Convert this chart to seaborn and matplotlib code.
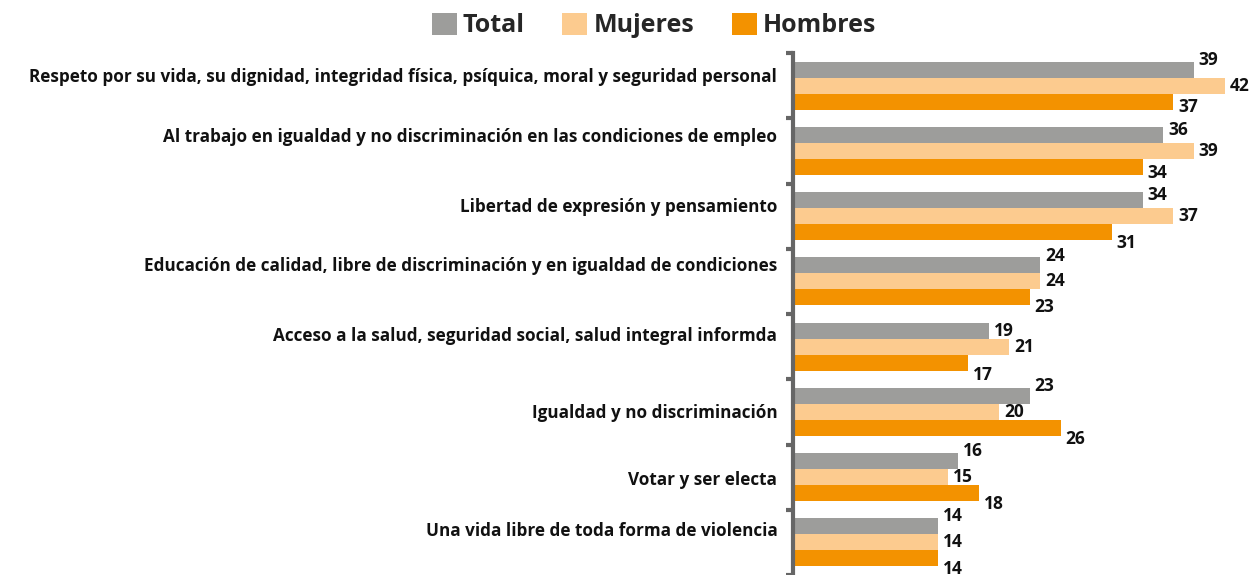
import matplotlib
matplotlib.use("Agg")
import matplotlib.pyplot as plt
import seaborn as sns
import pandas as pd
import numpy as np

categorias = [
    "Respeto por su vida, su dignidad, integridad física, psíquica, moral y seguridad personal",
    "Al trabajo en igualdad y no discriminación en las condiciones de empleo",
    "Libertad de expresión y pensamiento",
    "Educación de calidad, libre de discriminación y en igualdad de condiciones",
    "Acceso a la salud, seguridad social, salud integral informda",
    "Igualdad y no discriminación",
    "Votar y ser electa",
    "Una vida libre de toda forma de violencia",
]
total = [39, 36, 34, 24, 19, 23, 16, 14]
mujeres = [42, 39, 37, 24, 21, 20, 15, 14]
hombres = [37, 34, 31, 23, 17, 26, 18, 14]
series = ["Total", "Mujeres", "Hombres"]
colores = ["#9d9d9b", "#fccb8f", "#f39200"]

# desplazamientos verticales (px) de las etiquetas, como en el original
nudge_total = [-10, -5, -5, -9, 0, -10, -10, -10]
nudge_mujeres = [0] * 8
nudge_hombres = [5, 6, 11, 10, 12, 11, 11, 11]
nudge_cat = [-11, -16, -11, -17, -13, -1, 1, -13]

df = pd.DataFrame({
    "categoria": categorias * 3,
    "serie": np.repeat(series, len(categorias)),
    "valor": total + mujeres + hombres,
})

sns.set_style("white")
plt.rcParams["font.family"] = ["Open Sans", "DejaVu Sans"]

fig = plt.figure(figsize=(12.53, 5.75), dpi=100)
ax = fig.add_axes([794 / 1253, 0.0, 451 / 1253, 1 - 53 / 575])

sns.barplot(data=df, x="valor", y="categoria", hue="serie", hue_order=series,
            palette=colores, orient="h", width=0.735, ax=ax, legend=True,
            saturation=1, linewidth=0)

ax.set_xlim(0, 44)
ax.set_ylim(len(categorias) - 0.5, -0.5)

for cont, nudges in zip(ax.containers, [nudge_total, nudge_mujeres, nudge_hombres]):
    for bar, dy in zip(cont, nudges):
        w = bar.get_width()
        yc = bar.get_y() + bar.get_height() / 2
        ax.annotate(f"{w:.0f}", (w, yc), xytext=(5, -dy), textcoords="offset pixels",
                    va="center", ha="left", fontsize=12.5, fontweight="bold",
                    color="#111111", annotation_clip=False)

ax.set_xlabel("")
ax.set_ylabel("")
ax.xaxis.set_visible(False)
for s in ["top", "right", "bottom"]:
    ax.spines[s].set_visible(False)
ax.spines["left"].set_color("#666666")
ax.spines["left"].set_linewidth(3)
ax.spines["left"].set_position(("outward", 1))

# etiquetas de categoría, con su pequeño desplazamiento vertical
paso = 65.4
ax.set_yticks(np.arange(len(categorias)) + np.array(nudge_cat) / paso, categorias)
ax.tick_params(axis="y", which="major", left=False, length=0, pad=11)
ax.set_yticks(np.arange(len(categorias) + 1) - 0.5, minor=True)
ax.tick_params(axis="y", which="minor", left=True, length=5, width=3, color="#666666")
for lab in ax.get_yticklabels():
    lab.set_fontweight("bold")
    lab.set_fontsize(12.3)
    lab.set_color("#111111")

handles, labels = ax.get_legend_handles_labels()
ax.get_legend().remove()
fig.legend(handles, labels, loc="center", bbox_to_anchor=(0.522, 1 - 25.5 / 575),
           ncol=3, frameon=False, handlelength=1.0, handleheight=1.0,
           handletextpad=0.25, columnspacing=1.5,
           prop={"weight": "bold", "size": 18})

fig.savefig("out.png", dpi=100)
